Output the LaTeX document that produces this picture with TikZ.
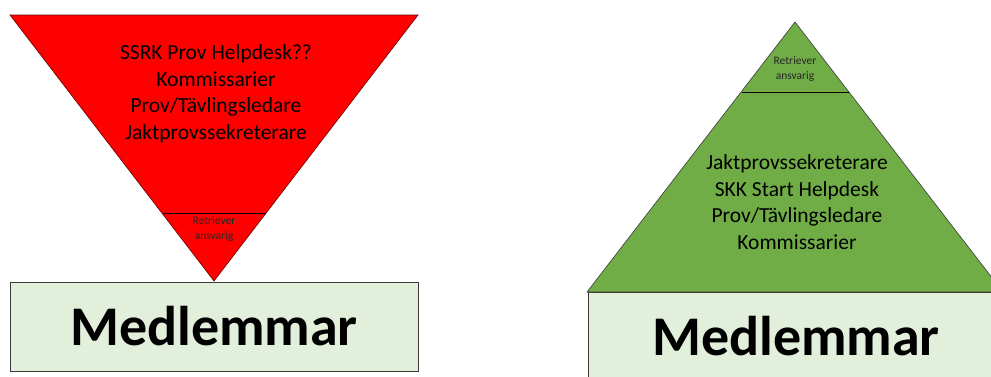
\documentclass[tikz,border=0pt]{standalone}
\usepackage{fontspec}
\setmainfont{Carlito}
\definecolor{redfill}{HTML}{FF0000}
\definecolor{greenfill}{HTML}{70AD47}
\definecolor{boxfill}{HTML}{E2EFDA}
\definecolor{edge}{HTML}{3A3A3A}
\tikzset{
  bigtext/.style={align=center,font=\fontsize{21.5}{26.5}\selectfont,text=black,inner sep=0pt},
  smalltext/.style={align=center,font=\fontsize{11.5}{15.5}\selectfont,text=black!85,inner sep=0pt},
  basebox/.style={fill=boxfill,draw=edge,line width=0.9pt},
  membertext/.style={font=\fontsize{56}{60}\selectfont\bfseries,text=black,inner sep=0pt},
}
\begin{document}
\begin{tikzpicture}[x=1pt,y=-1pt]
\clip (0,0) rectangle (991,376);
\fill[white] (0,0) rectangle (991,376);
% left: red inverted triangle
\draw[fill=redfill,draw=red!40!black,line width=0.6pt] (10,15) -- (418,15) -- (214,281) -- cycle;
\draw[black,line width=1pt] (163,213) -- (266,213);
\node[bigtext] (lefttext) at (216,94) {SSRK Prov Helpdesk??\\Kommissarier\\Prov/Tävlingsledare\\Jaktprovssekreterare};
\node[smalltext] (leftsmall) at (214,229) {Retriever\\ansvarig};
\draw[basebox] (10,282) rectangle (418,371);
\node[membertext] (leftmember) at (214,326) {Medlemmar};
% right: green triangle
\draw[fill=greenfill,draw=edge,line width=0.6pt] (795,22) -- (1003,292) -- (587,292) -- cycle;
\draw[black,line width=1pt] (742,92) -- (849,92);
\node[smalltext] (rightsmall) at (795,69) {Retriever\\ansvarig};
\node[bigtext] (righttext) at (797,202) {Jaktprovssekreterare\\SKK Start Helpdesk\\Prov/Tävlingsledare\\Kommissarier};
\draw[basebox] (588,292) rectangle (1010,390);
\node[membertext] (rightmember) at (796,336) {Medlemmar};
\end{tikzpicture}
\end{document}
